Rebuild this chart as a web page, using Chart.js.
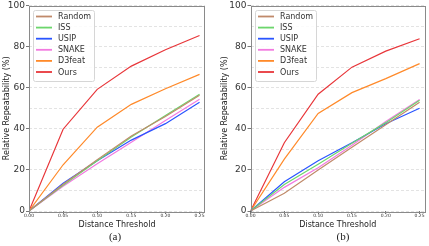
<!DOCTYPE html>
<html>
<head>
<meta charset="utf-8">
<script src="https://cdn.jsdelivr.net/npm/chart.js@4.4.1/dist/chart.umd.min.js"></script>
<style>
  html, body { margin: 0; padding: 0; background: #fff; }
  body { width: 429px; height: 246px; position: relative; overflow: hidden; }
  canvas { position: absolute; top: 0; }
  .caption { position: absolute; top: 230px; font: 11px 'Liberation Serif', serif; line-height: 13px; color: #222; transform: translateX(-50%); }
</style>
</head>
<body>
<canvas id="chartA" width="214" height="232" style="left:0"></canvas>
<canvas id="chartB" width="214" height="232" style="left:215px"></canvas>
<div class="caption" style="left:115px">(a)</div>
<div class="caption" style="left:343px">(b)</div>
<script>
// distance thresholds on the x axis
const thresholds = [0, 0.05, 0.10, 0.15, 0.20, 0.25];
const methods = ['Random', 'ISS', 'USIP', 'SNAKE', 'D3feat', 'Ours'];
const yTicks = [0, 10, 20, 30, 40, 50, 60, 70, 80, 90, 100];

// panel (a) - relative repeatability (%)
const randomA = [0, 13.0, 25.0, 36.5, 46.0, 56.3];
const issA    = [0, 12.5, 24.5, 36.0, 46.5, 56.8];
const usipA   = [0, 13.5, 24.5, 34.5, 42.5, 52.9];
const snakeA  = [0, 12.0, 23.0, 33.5, 44.0, 54.4];
const d3featA = [0, 22.5, 40.8, 51.9, 59.5, 66.5];
const oursA   = [0, 39.8, 59.2, 70.5, 78.5, 85.4];

// panel (b)
const randomB = [0, 8.6, 20.0, 31.0, 42.0, 52.9];
const issB    = [0, 12.9, 22.8, 33.0, 43.0, 53.9];
const usipB   = [0, 14.2, 24.5, 33.2, 42.5, 50.0];
const snakeB  = [0, 11.5, 21.0, 32.0, 43.5, 54.2];
const d3featB = [0, 25.2, 47.5, 57.6, 64.4, 71.7];
const oursB   = [0, 33.2, 56.8, 70.0, 77.8, 83.8];

const lineColors = ['#c08a6a', '#6cd66c', '#2a55ff', '#f27ae0', '#ff8a2a', '#e8363a'];

// draws the full axes box like matplotlib spines
const frame = {
  id: 'frame',
  afterDatasetsDraw(chart) {
    const { ctx, chartArea: a } = chart;
    ctx.save();
    ctx.strokeStyle = '#8a8a8a';
    ctx.lineWidth = 1;
    ctx.strokeRect(Math.round(a.left) + 0.5, Math.round(a.top) + 0.5,
      Math.round(a.right - a.left) - 1, Math.round(a.bottom - a.top));
    ctx.restore();
  }
};

// framed legend in the upper left corner
const boxLegend = {
  id: 'boxLegend',
  afterDatasetsDraw(chart) {
    const { ctx, chartArea: a } = chart;
    const x = Math.round(a.left) + 4, y = Math.round(a.top) + 4;
    ctx.save();
    ctx.beginPath();
    ctx.roundRect(x + 0.5, y + 0.5, 61, 71, 2);
    ctx.fillStyle = 'rgba(255,255,255,0.85)';
    ctx.fill();
    ctx.strokeStyle = '#d6d6d6';
    ctx.lineWidth = 1;
    ctx.stroke();
    ctx.font = '8px "DejaVu Sans"';
    ctx.textBaseline = 'middle';
    chart.data.datasets.forEach((ds, i) => {
      const ly = y + 6.5 + i * 11.1;
      ctx.strokeStyle = ds.borderColor;
      ctx.lineWidth = 1.8;
      ctx.beginPath();
      ctx.moveTo(x + 3, ly);
      ctx.lineTo(x + 19, ly);
      ctx.stroke();
      ctx.fillStyle = '#333';
      ctx.fillText(ds.label, x + 25, ly + 0.5);
    });
    ctx.restore();
  }
};

function makeChart(id, series, padLeft, yWidth, padRight) {
  const datasets = series.map((vals, i) => ({
    label: methods[i],
    data: thresholds.map((t, j) => ({ x: t, y: vals[j] })),
    borderColor: lineColors[i],
    borderWidth: 1.2,
    pointRadius: 0,
    tension: 0,
    fill: false
  }));

  return new Chart(document.getElementById(id), {
    type: 'line',
    data: { datasets },
    plugins: [frame, boxLegend],
    options: {
      responsive: false,
      animation: false,
      devicePixelRatio: 1,
      layout: { padding: { top: 5, left: padLeft, right: padRight, bottom: 0 } },
      plugins: { legend: { display: false }, tooltip: { enabled: false } },
      scales: {
        x: {
          type: 'linear',
          min: 0,
          max: 0.258,
          afterBuildTicks: s => { s.ticks = thresholds.map(v => ({ value: v })); },
          afterFit: s => { s.height = 21; },
          border: { display: false },
          grid: { drawOnChartArea: false, tickLength: 3, tickColor: '#555', tickWidth: 0.8 },
          ticks: {
            maxRotation: 0,
            padding: 0,
            color: '#333',
            font: { family: 'DejaVu Sans', size: 4.5, lineHeight: 1 },
            callback: v => v.toFixed(2)
          },
          title: {
            display: true,
            text: 'Distance Threshold',
            color: '#222',
            font: { family: 'DejaVu Sans', size: 8 },
            padding: { top: 0, bottom: 2 }
          }
        },
        y: {
          min: 0,
          max: 100,
          afterBuildTicks: s => { s.ticks = yTicks.map(v => ({ value: v })); },
          afterFit: s => { s.width = yWidth; },
          border: { display: false, dash: [3, 2] },
          grid: {
            color: '#dcdcdc',
            lineWidth: 0.8,
            tickLength: 3,
            tickWidth: 0.8,
            tickColor: c => (c.tick && c.tick.value % 20 === 0) ? '#555' : 'rgba(0,0,0,0)'
          },
          ticks: {
            padding: 1,
            color: '#333',
            font: { family: 'DejaVu Sans', size: 9, lineHeight: 1 },
            callback: v => (v % 20 === 0 ? v : '')
          },
          title: {
            display: true,
            text: 'Relative Repeatability (%)',
            color: '#222',
            font: { family: 'DejaVu Sans', size: 8 },
            padding: { top: 2, bottom: 0 }
          }
        }
      }
    }
  });
}

makeChart('chartA', [randomA, issA, usipA, snakeA, d3featA, oursA], 0, 29, 9);
makeChart('chartB', [randomB, issB, usipB, snakeB, d3featB, oursB], 3, 32.5, 4);
</script>
</body>
</html>
